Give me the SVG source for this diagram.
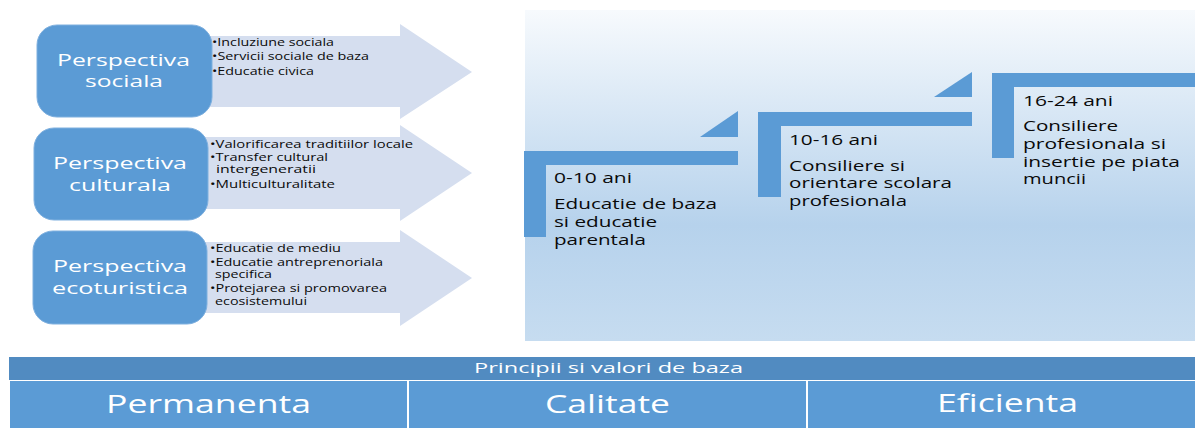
<svg xmlns="http://www.w3.org/2000/svg" width="1195" height="428" viewBox="0 0 1195 428">
<defs>
<linearGradient id="panelGrad" x1="0" y1="0" x2="0" y2="1">
<stop offset="0" stop-color="#f7fafd"/>
<stop offset="0.65" stop-color="#b6d2ec"/>
<stop offset="1" stop-color="#c6dcf0"/>
</linearGradient>
</defs>
<style>
.box{fill:#5b9bd5;stroke:#7fb0df;stroke-width:1}
.arrow{fill:#d5deef}
.step{fill:#5b9bd5}
.bt{font-family:"Open Sans","DejaVu Sans",sans-serif;font-size:17px;fill:#ffffff}
.bl{font-family:"Open Sans","DejaVu Sans",sans-serif;font-size:10px;fill:#0a0a0a}
.st{font-family:"Open Sans","DejaVu Sans",sans-serif;font-size:14.5px;fill:#0a0a0a}
.hd{font-family:"Open Sans","DejaVu Sans",sans-serif;font-size:14px;fill:#ffffff}
.cl{font-family:"Open Sans","DejaVu Sans",sans-serif;font-size:26px;fill:#ffffff}
</style>
<rect width="1195" height="428" fill="#ffffff"/>

<g id="connectors">
<polygon class="arrow" points="205,36 400,36 400,24 472,72 400,119 400,107 205,107"/>
<polygon class="arrow" points="200,137 400,137 400,125 472,173 400,221 400,209 200,209"/>
<polygon class="arrow" points="200,242 400,242 400,230 472,278 400,326 400,313 200,313"/>
</g>

<g id="node-sociala">
<rect class="box" x="37" y="25" width="175" height="92" rx="20"/>
<text class="bt" x="57" y="66" textLength="133" lengthAdjust="spacingAndGlyphs">Perspectiva</text>
<text class="bt" x="85" y="87" textLength="78" lengthAdjust="spacingAndGlyphs">sociala</text>
<text class="bl" x="212" y="46" textLength="122" lengthAdjust="spacingAndGlyphs">•Incluziune sociala</text>
<text class="bl" x="212" y="60" textLength="157" lengthAdjust="spacingAndGlyphs">•Servicii sociale de baza</text>
<text class="bl" x="212" y="75" textLength="102" lengthAdjust="spacingAndGlyphs">•Educatie civica</text>
</g>

<g id="node-culturala">
<rect class="box" x="34" y="128" width="174" height="92" rx="20"/>
<text class="bt" x="53" y="169" textLength="134" lengthAdjust="spacingAndGlyphs">Perspectiva</text>
<text class="bt" x="69" y="191" textLength="102" lengthAdjust="spacingAndGlyphs">culturala</text>
<text class="bl" x="210" y="148" textLength="203" lengthAdjust="spacingAndGlyphs">•Valorificarea traditiilor locale</text>
<text class="bl" x="210" y="161" textLength="118" lengthAdjust="spacingAndGlyphs">•Transfer cultural</text>
<text class="bl" x="216" y="173" textLength="100" lengthAdjust="spacingAndGlyphs">intergeneratii</text>
<text class="bl" x="210" y="188" textLength="125" lengthAdjust="spacingAndGlyphs">•Multiculturalitate</text>
</g>

<g id="node-ecoturistica">
<rect class="box" x="33" y="231" width="174" height="93" rx="20"/>
<text class="bt" x="53" y="272" textLength="134" lengthAdjust="spacingAndGlyphs">Perspectiva</text>
<text class="bt" x="52" y="294" textLength="136" lengthAdjust="spacingAndGlyphs">ecoturistica</text>
<text class="bl" x="210" y="252" textLength="131" lengthAdjust="spacingAndGlyphs">•Educatie de mediu</text>
<text class="bl" x="210" y="266" textLength="173" lengthAdjust="spacingAndGlyphs">•Educatie antreprenoriala</text>
<text class="bl" x="215" y="278" textLength="57" lengthAdjust="spacingAndGlyphs">specifica</text>
<text class="bl" x="210" y="292" textLength="177" lengthAdjust="spacingAndGlyphs">•Protejarea si promovarea</text>
<text class="bl" x="215" y="305" textLength="92" lengthAdjust="spacingAndGlyphs">ecosistemului</text>
</g>

<g id="panel">
<rect x="525" y="10" width="670" height="331" fill="url(#panelGrad)"/>
</g>

<g id="step-0-10">
<path class="step" d="M524,151 H738 V165 H546 V237 H524 Z"/>
<polygon class="step" points="700,137 738,137 738,111"/>
<text class="st" x="554" y="183" textLength="78" lengthAdjust="spacingAndGlyphs">0-10 ani</text>
<text class="st" x="554" y="209" textLength="163" lengthAdjust="spacingAndGlyphs">Educatie de baza</text>
<text class="st" x="554" y="227" textLength="103" lengthAdjust="spacingAndGlyphs">si educatie</text>
<text class="st" x="554" y="245" textLength="92" lengthAdjust="spacingAndGlyphs">parentala</text>
</g>

<g id="step-10-16">
<path class="step" d="M758,112 H972 V126 H781 V197 H758 Z"/>
<polygon class="step" points="934,97 972,97 972,72"/>
<text class="st" x="789" y="145" textLength="89" lengthAdjust="spacingAndGlyphs">10-16 ani</text>
<text class="st" x="789" y="171" textLength="116" lengthAdjust="spacingAndGlyphs">Consiliere si</text>
<text class="st" x="789" y="188" textLength="163" lengthAdjust="spacingAndGlyphs">orientare scolara</text>
<text class="st" x="789" y="206" textLength="118" lengthAdjust="spacingAndGlyphs">profesionala</text>
</g>

<g id="step-16-24">
<path class="step" d="M992,73 H1195 V87 H1014 V158 H992 Z"/>
<text class="st" x="1023" y="106" textLength="90" lengthAdjust="spacingAndGlyphs">16-24 ani</text>
<text class="st" x="1023" y="131" textLength="95" lengthAdjust="spacingAndGlyphs">Consiliere</text>
<text class="st" x="1023" y="149" textLength="143" lengthAdjust="spacingAndGlyphs">profesionala si</text>
<text class="st" x="1023" y="167" textLength="157" lengthAdjust="spacingAndGlyphs">insertie pe piata</text>
<text class="st" x="1023" y="184" textLength="63" lengthAdjust="spacingAndGlyphs">muncii</text>
</g>

<g id="table-header">
<rect x="9" y="357" width="1186" height="23" fill="#518bc1"/>
<text class="hd" x="474" y="373" textLength="269" lengthAdjust="spacingAndGlyphs">Principii si valori de baza</text>
</g>
<g id="cell-permanenta">
<rect x="10" y="381" width="397" height="47" fill="#5b9bd5"/>
<text class="cl" x="106" y="413" textLength="205" lengthAdjust="spacingAndGlyphs">Permanenta</text>
</g>
<g id="cell-calitate">
<rect x="409" y="381" width="397" height="47" fill="#5b9bd5"/>
<text class="cl" x="545" y="413" textLength="125" lengthAdjust="spacingAndGlyphs">Calitate</text>
</g>
<g id="cell-eficienta">
<rect x="808" y="381" width="387" height="47" fill="#5b9bd5"/>
<text class="cl" x="937" y="412" textLength="141" lengthAdjust="spacingAndGlyphs">Eficienta</text>
</g>
</svg>
